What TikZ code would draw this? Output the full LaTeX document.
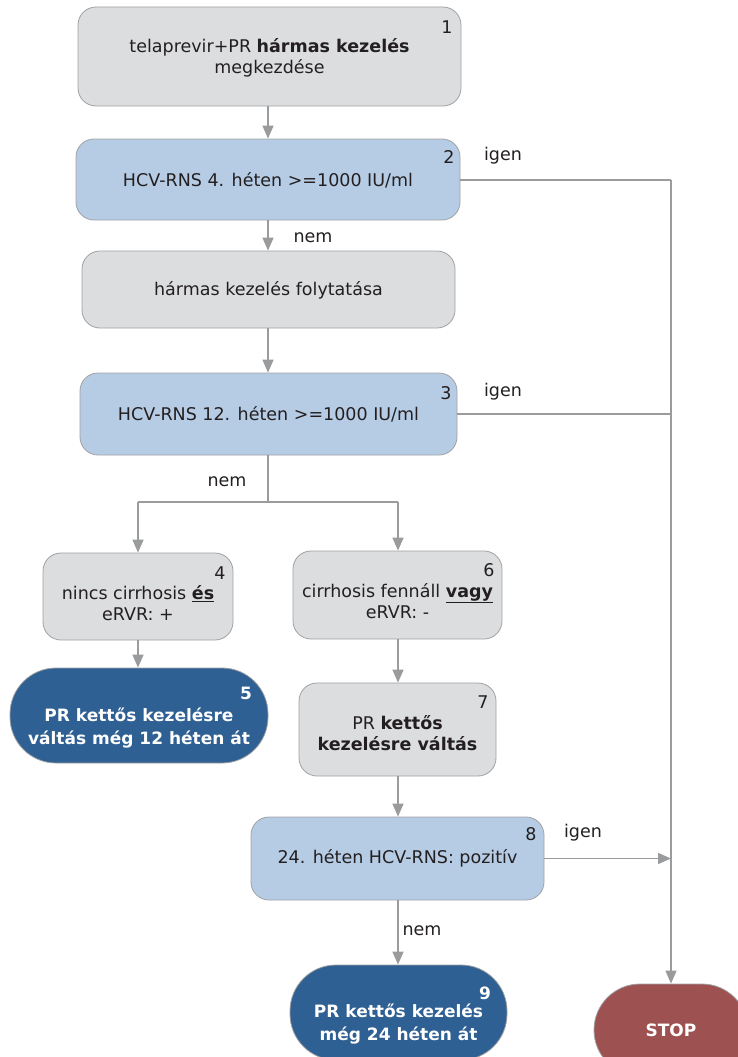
\documentclass[tikz,border=0pt]{standalone}
\usepackage{fontspec}
\setmainfont{DejaVu Sans}
\usetikzlibrary{arrows.meta}

\definecolor{boxgray}{HTML}{DCDDDF}
\definecolor{boxblue}{HTML}{B6CCE5}
\definecolor{pillblue}{HTML}{2F6093}
\definecolor{stopred}{HTML}{9D5251}
\definecolor{edgegray}{HTML}{A0A1A3}
\definecolor{linegray}{HTML}{9A9B9D}
\definecolor{inktext}{HTML}{231F20}

\tikzset{
  box/.style={draw=edgegray, line width=0.8pt, rounded corners=18pt, inner sep=0pt},
  graybox/.style={box, fill=boxgray},
  bluebox/.style={box, fill=boxblue},
  pill/.style={draw=edgegray, line width=0.8pt, rounded corners=46pt, inner sep=0pt, fill=pillblue},
  stoppill/.style={pill, fill=stopred},
  body/.style={font=\fontsize{17.5}{21}\selectfont, text=inktext, align=center, inner sep=0pt},
  whitebody/.style={font=\fontsize{17}{23}\selectfont\bfseries, text=white, align=center, inner sep=0pt},
  num/.style={font=\fontsize{17.5}{20}\selectfont, text=inktext, inner sep=0pt},
  whitenum/.style={font=\fontsize{17}{20}\selectfont\bfseries, text=white, inner sep=0pt},
  answer/.style={font=\fontsize{17.5}{20}\selectfont, text=inktext, inner sep=0pt},
  link/.style={draw=linegray, line width=1.4pt},
  flow/.style={link, -{Triangle[width=11pt,length=13pt]}},
}

\begin{document}
\begin{tikzpicture}[x=1pt,y=-1pt]
\useasboundingbox (0,0) rectangle (738,1057);
\clip (0,0) rectangle (738,1057);

% boxes of the flow chart
\node[graybox, minimum width=383pt, minimum height=99pt] (n1) at (269.5,56.5) {};
\node[body] (n1t) at (269.5,57.5) {telaprevir+PR \textbf{hármas kezelés}\\megkezdése};
\node[num] (n1n) at (447,27) {1};

\node[bluebox, minimum width=384pt, minimum height=81pt] (n2) at (268,179.5) {};
\node[body] (n2t) at (268,180) {HCV-RNS 4. héten >=1000 IU/ml};
\node[num] (n2n) at (449,157) {2};

\node[graybox, minimum width=373pt, minimum height=77pt] (nf) at (268.5,289.5) {};
\node[body] (nft) at (268.5,290) {hármas kezelés folytatása};

\node[bluebox, minimum width=377pt, minimum height=82pt] (n3) at (268.5,414) {};
\node[body] (n3t) at (268.5,414) {HCV-RNS 12. héten >=1000 IU/ml};
\node[num] (n3n) at (446,393) {3};

\node[graybox, minimum width=190pt, minimum height=87pt] (n4) at (138,596.5) {};
\node[body] (n4t) at (138,603) {nincs cirrhosis \underline{\textbf{és}}\\eRVR: +};
\node[num] (n4n) at (220,573) {4};

\node[graybox, minimum width=209pt, minimum height=88pt] (n6) at (397.5,595) {};
\node[body] (n6t) at (397.5,601) {cirrhosis fennáll \underline{\textbf{vagy}}\\eRVR: -};
\node[num] (n6n) at (489,570) {6};

\node[pill, minimum width=258pt, minimum height=95pt] (n5) at (139,715.5) {};
\node[whitebody] (n5t) at (139,728) {PR kettős kezelésre\\váltás még 12 héten át};
\node[whitenum] (n5n) at (246,693) {5};

\node[graybox, minimum width=197pt, minimum height=93pt] (n7) at (397.5,729.5) {};
\node[body] (n7t) at (397.5,733) {PR \textbf{kettős}\\\textbf{kezelésre váltás}};
\node[num] (n7n) at (483,702) {7};

\node[bluebox, minimum width=293pt, minimum height=83pt] (n8) at (397.5,858.5) {};
\node[body] (n8t) at (397.5,858) {24. héten HCV-RNS: pozitív};
\node[num] (n8n) at (531,834) {8};

\node[pill, minimum width=217pt, minimum height=95pt] (n9) at (398.5,1012.5) {};
\node[whitebody] (n9t) at (398.5,1024) {PR kettős kezelés\\még 24 héten át};
\node[whitenum] (n9n) at (485,993) {9};

\node[stoppill, minimum width=154pt, minimum height=92pt] (stop) at (671,1030) {};
\node[whitebody] (stopt) at (671,1030) {STOP};

% junction points
\coordinate (split) at (268,502);
\coordinate (splitl) at (138,502);
\coordinate (splitr) at (398,502);
\coordinate (railtop) at (671,180);
\coordinate (rail3) at (671,414);
\coordinate (rail8) at (671,858.5);

% connectors
\draw[flow] (n1.south -| n2.north) -- (n2.north);
\draw[flow] (n2.south) -- (n2.south |- nf.north);
\draw[flow] (nf.south -| split) -- (n3.north -| split);
\draw[link] (n3.south -| split) -- (split);
\draw[link] (splitl) -- (splitr);
\draw[flow] (splitl) -- (splitl |- n4.north);
\draw[flow] (splitr) -- (splitr |- n6.north);
\draw[flow] (n4.south) -- (n4.south |- n5.north);
\draw[flow] (n6.south -| splitr) -- (splitr |- n7.north);
\draw[flow] (n7.south -| splitr) -- (splitr |- n8.north);
\draw[flow] (n8.south -| splitr) -- (splitr |- n9.north);
\draw[link] (n2.east |- railtop) -- (railtop);
\draw[flow] (railtop) -- (stop.north);
\draw[link] (n3.east) -- (rail3);
\draw[flow] (n8.east) -- (rail8);

% answer labels
\node[answer] (a2y) at (503,156) {igen};
\node[answer] (a2n) at (313,238) {nem};
\node[answer] (a3y) at (503,392) {igen};
\node[answer] (a3n) at (227,482) {nem};
\node[answer] (a8y) at (583,833) {igen};
\node[answer] (a8n) at (422,931) {nem};
\end{tikzpicture}
\end{document}
